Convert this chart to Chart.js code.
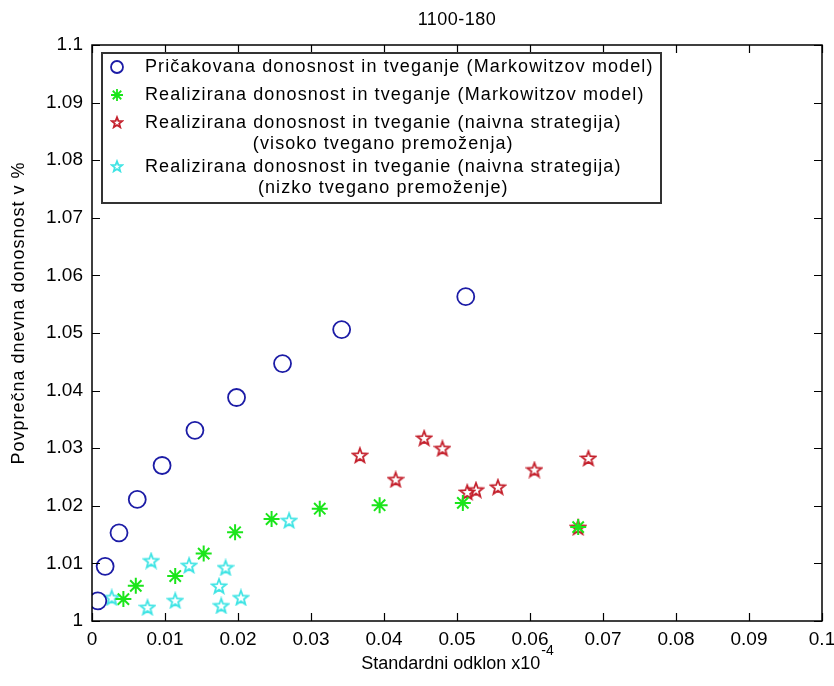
<!DOCTYPE html>
<html>
<head>
<meta charset="utf-8">
<script src="https://cdn.jsdelivr.net/npm/chart.js@4"></script>
<style>
  html, body { margin: 0; padding: 0; background: #fff; }
  #wrap { width: 834px; height: 686px; }
</style>
</head>
<body>
<div id="wrap"><canvas id="chart" width="834" height="686"></canvas></div>
<script>
// expected return / risk (Markowitz)
const expX = [0.0008, 0.0018, 0.0037, 0.0062, 0.0096, 0.0141, 0.0198, 0.0261, 0.0342, 0.0512];
const expY = [1.0035, 1.0095, 1.0153, 1.0211, 1.0270, 1.0331, 1.0388, 1.0447, 1.0506, 1.0563];
// realised (Markowitz)
const realX = [0.0043, 0.0060, 0.0114, 0.0153, 0.0196, 0.0246, 0.0312, 0.0394, 0.0508, 0.0666];
const realY = [1.0038, 1.0061, 1.0078, 1.0117, 1.0154, 1.0177, 1.0195, 1.0201, 1.0205, 1.0163];
// naive strategy, high risk assets
const highX = [0.0367, 0.0416, 0.0455, 0.0480, 0.0514, 0.0526, 0.0556, 0.0606, 0.0666, 0.0680];
const highY = [1.0288, 1.0246, 1.0318, 1.0300, 1.0224, 1.0228, 1.0233, 1.0263, 1.0163, 1.0283];
// naive strategy, low risk assets
const lowX = [0.0027, 0.0076, 0.0081, 0.0114, 0.0133, 0.0174, 0.0177, 0.0183, 0.0204, 0.0270];
const lowY = [1.0041, 1.0024, 1.0105, 1.0036, 1.0097, 1.0061, 1.0027, 1.0093, 1.0041, 1.0175];

const xTicks = [0, 0.01, 0.02, 0.03, 0.04, 0.05, 0.06, 0.07, 0.08, 0.09, 0.1];
const yTicks = [1, 1.01, 1.02, 1.03, 1.04, 1.05, 1.06, 1.07, 1.08, 1.09, 1.1];

const titleText = '1100-180';
const xLabel = 'Standardni odklon x10';
const xLabelExp = '-4';
const yLabel = 'Povprečna dnevna donosnost v %';
const legendLines = [
  ['Pričakovana donosnost in tveganje (Markowitzov model)'],
  ['Realizirana donosnost in tveganje (Markowitzov model)'],
  ['Realizirana donosnost in tveganie (naivna strategija)', '(visoko tvegano premoženja)'],
  ['Realizirana donosnost in tveganie (naivna strategija)', '(nizko tvegano premoženje)']
];

const FONT = '"Liberation Sans", Arial, sans-serif';
const BLUE = '#1c1ca6';
const GREEN = '#1be51b';
const RED = '#c4202c';
const CYAN = '#3ee4e4';

function pentagram(color, size) {
  const c = document.createElement('canvas');
  c.width = size; c.height = size;
  const g = c.getContext('2d');
  const cx = size / 2, cy = size / 2 + 0.8;
  const R = size / 2 - 1.5, r = R * 0.42;
  g.beginPath();
  for (let i = 0; i < 10; i++) {
    const a = -Math.PI / 2 + i * Math.PI / 5;
    const rad = i % 2 ? r : R;
    const px = cx + rad * Math.cos(a), py = cy + rad * Math.sin(a);
    i ? g.lineTo(px, py) : g.moveTo(px, py);
  }
  g.closePath();
  g.strokeStyle = color;
  g.lineWidth = 1.8;
  g.stroke();
  return c;
}
const redStar = pentagram(RED, 18);
const cyanStar = pentagram(CYAN, 18);

const toPts = (xs, ys) => xs.map((x, i) => ({x: x, y: ys[i]}));

// box, inward ticks, titles and legend, MATLAB style
const matlabFrame = {
  id: 'matlabFrame',
  afterDatasetsDraw(chart) {
    const ctx = chart.ctx;
    const a = chart.chartArea;
    const xs = chart.scales.x, ys = chart.scales.y;
    ctx.save();
    ctx.strokeStyle = '#000';
    ctx.lineWidth = 1.5;
    ctx.strokeRect(a.left, a.top, a.right - a.left, a.bottom - a.top);
    ctx.beginPath();
    xTicks.forEach(v => {
      const px = Math.round(xs.getPixelForValue(v)) + 0.5;
      ctx.moveTo(px, a.bottom); ctx.lineTo(px, a.bottom - 8);
      ctx.moveTo(px, a.top); ctx.lineTo(px, a.top + 8);
    });
    yTicks.forEach(v => {
      const py = Math.round(ys.getPixelForValue(v)) + 0.5;
      ctx.moveTo(a.left, py); ctx.lineTo(a.left + 8, py);
      ctx.moveTo(a.right, py); ctx.lineTo(a.right - 8, py);
    });
    ctx.lineWidth = 1.2;
    ctx.stroke();

    // title
    ctx.fillStyle = '#000';
    ctx.font = '18px ' + FONT;
    ctx.letterSpacing = '0.5px';
    ctx.textAlign = 'center';
    ctx.textBaseline = 'middle';
    ctx.fillText(titleText, (a.left + a.right) / 2, 20);

    // x label with exponent
    ctx.letterSpacing = '0px';
    const w1 = ctx.measureText(xLabel).width;
    ctx.font = '14px ' + FONT;
    const w2 = ctx.measureText(xLabelExp).width;
    const startX = (a.left + a.right) / 2 - (w1 + w2) / 2;
    ctx.textAlign = 'left';
    ctx.font = '18px ' + FONT;
    ctx.fillText(xLabel, startX, 664);
    ctx.font = '14px ' + FONT;
    ctx.fillText(xLabelExp, startX + w1 + 1, 651);

    // y label
    ctx.save();
    ctx.translate(19, 313);
    ctx.rotate(-Math.PI / 2);
    ctx.textAlign = 'center';
    ctx.font = '18px ' + FONT;
    ctx.letterSpacing = '1px';
    ctx.fillText(yLabel, 0, 0);
    ctx.restore();

    // legend
    const lx = 102, ly = 53, lw = 559, lh = 150;
    ctx.fillStyle = '#fff';
    ctx.fillRect(lx, ly, lw, lh);
    ctx.strokeStyle = '#333';
    ctx.lineWidth = 2;
    ctx.strokeRect(lx, ly, lw, lh);
    const rows = [67, 95, 123, 167];
    const textL = 145;
    ctx.font = '18px ' + FONT;
    ctx.letterSpacing = '1.1px';
    ctx.fillStyle = '#000';
    legendLines.forEach((lines, i) => {
      const y = rows[i];
      ctx.textAlign = 'left';
      ctx.fillText(lines[0], textL, y);
      if (lines[1]) {
        const w = ctx.measureText(lines[0]).width;
        ctx.textAlign = 'center';
        ctx.fillText(lines[1], textL + w / 2, y + 21);
      }
    });
    ctx.letterSpacing = '0px';
    // legend markers
    const mx = 117;
    ctx.strokeStyle = BLUE; ctx.lineWidth = 1.8;
    ctx.beginPath(); ctx.arc(mx, rows[0], 6, 0, Math.PI * 2); ctx.stroke();
    ctx.strokeStyle = GREEN; ctx.lineWidth = 1.8;
    ctx.beginPath();
    for (let k = 0; k < 4; k++) {
      const an = k * Math.PI / 4;
      ctx.moveTo(mx - 6 * Math.cos(an), rows[1] - 6 * Math.sin(an));
      ctx.lineTo(mx + 6 * Math.cos(an), rows[1] + 6 * Math.sin(an));
    }
    ctx.stroke();
    ctx.drawImage(pentagram(RED, 14), mx - 7, rows[2] - 8);
    ctx.drawImage(pentagram(CYAN, 14), mx - 7, rows[3] - 8);
    ctx.restore();
  }
};

new Chart(document.getElementById('chart'), {
  type: 'scatter',
  data: {
    datasets: [
      {label: legendLines[0][0], data: toPts(expX, expY), pointStyle: 'circle', radius: 8.5,
       borderColor: BLUE, backgroundColor: 'rgba(0,0,0,0)', borderWidth: 1.8},
      {label: legendLines[1][0], data: toPts(realX, realY), pointStyle: 'star', radius: 8,
       borderColor: GREEN, backgroundColor: GREEN, borderWidth: 2},
      {label: legendLines[2][0], data: toPts(highX, highY), pointStyle: redStar},
      {label: legendLines[3][0], data: toPts(lowX, lowY), pointStyle: cyanStar}
    ]
  },
  options: {
    responsive: false,
    animation: false,
    layout: {padding: {left: 0, top: 45, right: 12, bottom: 0}},
    plugins: {
      legend: {display: false},
      title: {display: false},
      tooltip: {enabled: false}
    },
    scales: {
      x: {
        type: 'linear', min: 0, max: 0.1,
        afterFit: s => { s.height = 65; s.paddingLeft = 0; s.paddingRight = 0; },
        afterBuildTicks: s => { s.ticks = xTicks.map(v => ({value: v})); },
        grid: {display: false, drawTicks: false},
        border: {display: false},
        ticks: {font: {size: 19, family: FONT}, color: '#000', padding: 7, maxRotation: 0,
                callback: v => String(+v.toFixed(2))}
      },
      y: {
        type: 'linear', min: 1, max: 1.1,
        afterFit: s => { s.width = 92; s.paddingTop = 0; s.paddingBottom = 0; },
        afterBuildTicks: s => { s.ticks = yTicks.map(v => ({value: v})); },
        grid: {display: false, drawTicks: false},
        border: {display: false},
        ticks: {font: {size: 19, family: FONT}, color: '#000', padding: 9,
                callback: v => String(+v.toFixed(2))}
      }
    }
  },
  plugins: [matlabFrame]
});
</script>
</body>
</html>
